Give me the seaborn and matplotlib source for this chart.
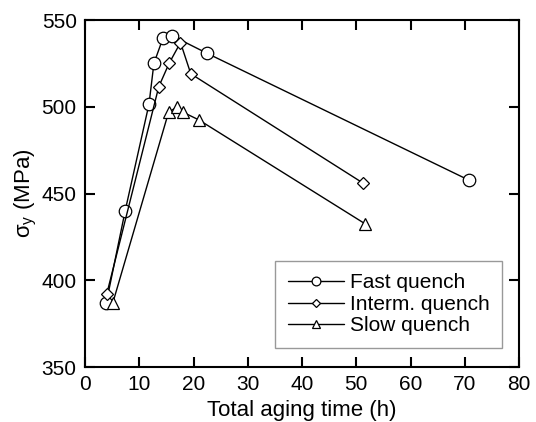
import matplotlib
matplotlib.use("Agg")
import matplotlib.pyplot as plt
import seaborn as sns
import pandas as pd

# aging time (h) and yield strength (MPa)
fast_t = [3.9, 7.4, 11.8, 12.7, 14.4, 16.0, 22.5, 70.7]
fast_s = [386.7, 440, 501.6, 525, 539.8, 541, 530.8, 457.8]
interm_t = [4.0, 13.6, 15.5, 17.6, 19.5, 51.3]
interm_s = [392, 511.6, 525, 537, 519, 455.9]
slow_t = [5.1, 15.4, 17.0, 18.1, 21.0, 51.7]
slow_s = [386.7, 496.8, 500, 496.8, 492.4, 432.4]

labels = ["Fast quench", "Interm. quench", "Slow quench"]
markers = ["o", "D", "^"]
msizes = [9, 6, 8]

sns.set_style("ticks")
plt.rcParams['font.family'] = ['Liberation Sans', 'DejaVu Sans']
plt.rcParams['mathtext.fontset'] = 'custom'
plt.rcParams['mathtext.rm'] = 'Liberation Sans'
plt.rcParams['text.color'] = 'black'
plt.rcParams['axes.labelcolor'] = 'black'

fig = plt.figure(figsize=(5.36, 4.22), dpi=100)
ax = fig.add_axes([0.1586, 0.1303, 0.8097, 0.8223])

series = [(fast_t, fast_s), (interm_t, interm_s), (slow_t, slow_s)]
for (t, s), lab, m, ms in zip(series, labels, markers, msizes):
    df = pd.DataFrame({"t": t, "s": s})
    sns.lineplot(data=df, x="t", y="s", ax=ax, color="black", lw=1,
                 marker=m, markersize=ms, markerfacecolor="white",
                 markeredgecolor="black", markeredgewidth=0.9,
                 label=lab, sort=False)

ax.set_xlim(0, 80)
ax.set_ylim(350, 550)
ax.set_xticks(range(0, 81, 10))
ax.set_yticks(range(350, 551, 50))
ax.tick_params(direction="in", length=7, width=1.5, labelsize=15,
               top=True, right=True, pad=6, colors="black")
for sp in ax.spines.values():
    sp.set_linewidth(1.5)
    sp.set_color("black")
    sp.set_visible(True)

ax.set_xlabel("Total aging time (h)", fontsize=16, labelpad=4)
ax.set_ylabel("σ$_\\mathregular{y}$ (MPa)", fontsize=16, labelpad=2)

leg = ax.legend(loc="lower left", bbox_to_anchor=(0.438, 0.055), fontsize=15,
                frameon=True, fancybox=False, edgecolor="gray",
                handlelength=2.7, handletextpad=0.3, labelspacing=0.12,
                borderpad=0.6, borderaxespad=0, markerscale=0.7)
leg.get_frame().set_linewidth(1.0)

fig.savefig("out.png", dpi=100)
